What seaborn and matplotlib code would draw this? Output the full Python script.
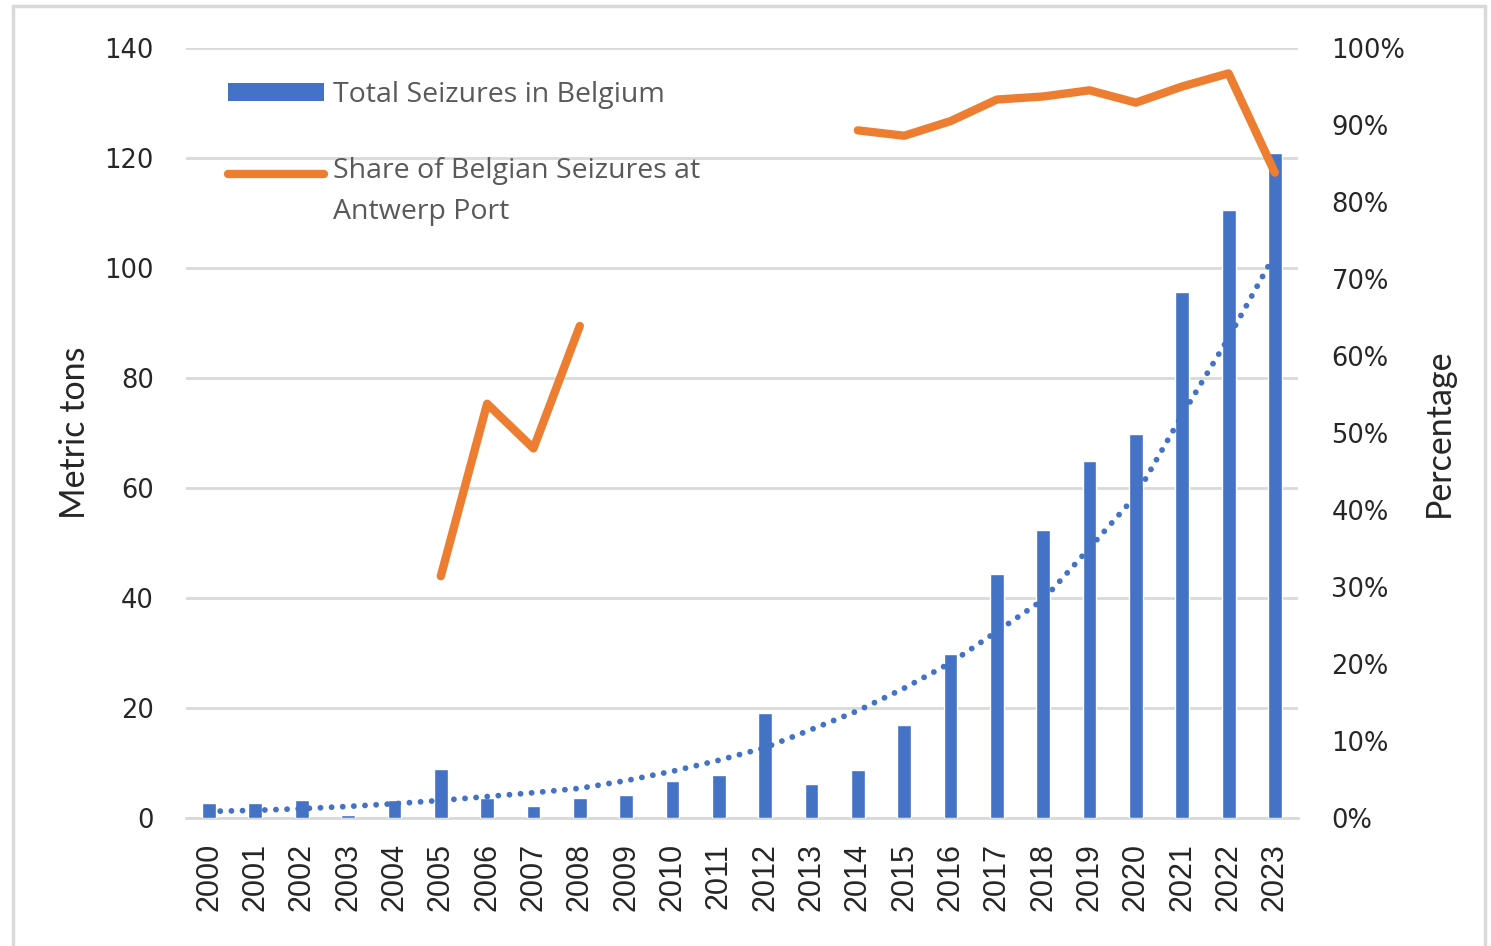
import numpy as np
import pandas as pd
import matplotlib
matplotlib.use("Agg")
import matplotlib.pyplot as plt
from matplotlib.lines import Line2D
from matplotlib.patches import Patch
from matplotlib.legend_handler import HandlerLine2D
from matplotlib.ticker import PercentFormatter
import seaborn as sns

years = list(range(2000, 2024))

# total seizures in Belgium (metric tons)
seizures = [2.7, 2.7, 3.3, 0.6, 3.3, 8.9, 3.7, 2.2, 3.7, 4.2, 6.8, 7.8,
            19.1, 6.2, 8.8, 17.0, 29.9, 44.3, 52.4, 64.9, 69.9, 95.7, 110.6, 120.9]

# exponential trendline as drawn on the chart
trend = [1.2, 1.4, 1.7, 2.1, 2.6, 3.2, 3.9, 4.6, 5.4, 6.8, 8.5, 10.5,
         12.8, 16.1, 19.5, 23.6, 28.2, 33.9, 39.7, 49.1, 58.6, 73.3, 87.3, 102.5]

# share of Belgian seizures at Antwerp port (fraction), gaps where missing
share = [np.nan, np.nan, np.nan, np.nan, np.nan, 0.314, 0.538, 0.480, 0.639,
         np.nan, np.nan, np.nan, np.nan, np.nan, 0.893, 0.886, 0.905, 0.933,
         0.937, 0.945, 0.929, 0.950, 0.967, 0.838]

BLUE = "#4472C4"
ORANGE = "#ED7D31"
GRID = "#D9D9D9"


class RaisedLineHandler(HandlerLine2D):
    # keeps the legend line level with the first row of a two-line label
    def __init__(self, raise_by=0.0, **kw):
        super().__init__(**kw)
        self.raise_by = raise_by

    def create_artists(self, legend, orig_handle, xdescent, ydescent, width,
                       height, fontsize, trans):
        artists = super().create_artists(legend, orig_handle, xdescent, ydescent,
                                         width, height, fontsize, trans)
        for a in artists:
            a.set_ydata(np.asarray(a.get_ydata()) + self.raise_by * fontsize)
        return artists


df = pd.DataFrame({"Year": years, "Seizures": seizures, "Trend": trend, "Share": share})
df["Segment"] = df["Share"].isna().cumsum()
df_share = df.dropna(subset=["Share"])

sns.set_theme(style="white")
plt.rcParams["font.family"] = ["DejaVu Sans"]

fig = plt.figure(figsize=(14.91, 9.46), dpi=100)
ax = fig.add_axes([0.1247, 0.1353, 0.7459, 0.8140])

sns.barplot(data=df, x="Year", y="Seizures", native_scale=True, color=BLUE,
            width=0.3, saturation=1, ax=ax, zorder=3)
sns.lineplot(data=df, x="Year", y="Trend", color=BLUE, lw=4.2, ax=ax, zorder=4,
             linestyle=(0, (0.01, 1.9)), dash_capstyle="round")

ax.set_xlim(1999.5, 2023.5)
ax.set_ylim(0, 140)
ax.set_yticks(range(0, 141, 20))
ax.set_xticks(years)
ax.set_xticklabels([str(y) for y in years], rotation=90, fontsize=22,
                   family="Liberation Sans")
ax.tick_params(axis="y", labelsize=18.5, length=0, pad=23)
ax.tick_params(axis="x", length=0, pad=18)
ax.yaxis.grid(True, color=GRID, lw=2)
ax.set_axisbelow(True)
for s in ["left", "right", "top"]:
    ax.spines[s].set_visible(False)
ax.spines["bottom"].set_color(GRID)
ax.spines["bottom"].set_linewidth(2)
ax.set_xlabel("")
ax.set_ylabel("Metric tons", fontsize=24.5, family="Lato", labelpad=10)

ax2 = ax.twinx()
sns.lineplot(data=df_share, x="Year", y="Share", units="Segment", estimator=None,
             color=ORANGE, lw=6, ax=ax2, solid_capstyle="round", zorder=5)
ax2.set_ylim(0, 1)
ax2.set_yticks(np.arange(0, 1.01, 0.1))
ax2.yaxis.set_major_formatter(PercentFormatter(1.0, decimals=0))
ax2.tick_params(axis="y", labelsize=18.5, length=0, pad=24)
for s in ax2.spines.values():
    s.set_visible(False)
ax2.set_ylabel("Percentage", fontsize=24.5, family="Lato", labelpad=13)
ax2.set_xlim(1999.5, 2023.5)

orange_handle = Line2D([0], [0], color=ORANGE, lw=6, solid_capstyle="round")
handles = [Patch(facecolor=BLUE, edgecolor="none"), orange_handle]
labels = ["Total Seizures in Belgium", "Share of Belgian Seizures at\nAntwerp Port"]
leg = ax2.legend(handles, labels, loc="upper left", bbox_to_anchor=(0.0144, 0.99),
                 frameon=False, handlelength=3.4, handleheight=0.6,
                 handletextpad=0.3, labelspacing=1.67,
                 handler_map={orange_handle: RaisedLineHandler(raise_by=0.65)},
                 prop={"family": "Open Sans", "size": 20.5})
for t in leg.get_texts():
    t.set_color("#595959")
    t.set_linespacing(1.65)

# light frame around the chart area
frame_kw = dict(color=GRID, lw=2.5, transform=fig.transFigure)
fig.add_artist(Line2D([13 / 1491, 13 / 1491], [0, 1 - 6 / 946], **frame_kw))
fig.add_artist(Line2D([1485 / 1491, 1485 / 1491], [0, 1 - 6 / 946], **frame_kw))
fig.add_artist(Line2D([13 / 1491, 1485 / 1491], [1 - 6 / 946, 1 - 6 / 946], **frame_kw))

fig.savefig("out.png", dpi=100)
